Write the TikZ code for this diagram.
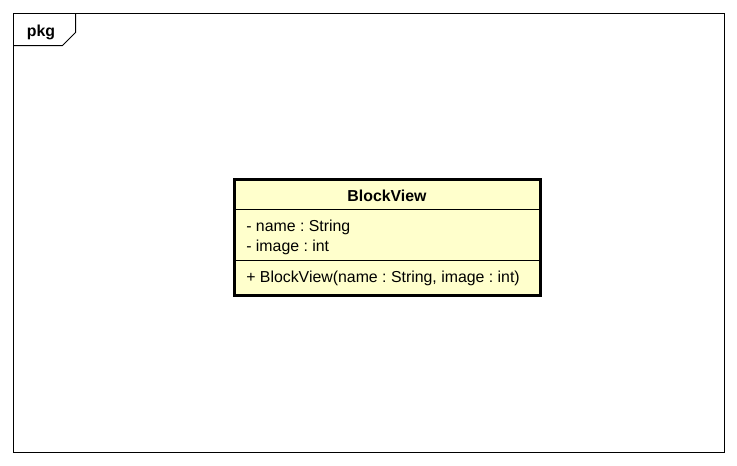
\documentclass[tikz,border=0pt]{standalone}
\usepackage{fontspec}
\setmainfont{Liberation Sans}
\definecolor{classfill}{HTML}{FFFFCC}
\frenchspacing
\begin{document}
\begin{tikzpicture}[x=0.75pt,y=-0.75pt,
  frameline/.style={draw=black,line width=0.75pt},
  classline/.style={draw=black,line width=2.25pt},
  divline/.style={draw=black,line width=0.75pt},
  txt/.style={inner sep=0pt,font=\fontsize{11.9pt}{14pt}\selectfont}]
\useasboundingbox (0,0) rectangle (737,465);
% package frame
\draw[frameline] (13.5,13.5) rectangle (724.5,452.5);
\draw[frameline] (13.5,45.5) -- (62.5,45.5) -- (75.5,32.5) -- (75.5,13.5);
\node[txt,font=\fontsize{11.9pt}{14pt}\selectfont\bfseries] (pkg) at (41,32) {pkg};
% class box
\fill[classfill] (234,179) rectangle (540,295);
\draw[divline] (234,209.5) -- (540,209.5);
\draw[divline] (234,260.5) -- (540,260.5);
\draw[classline] (234,179) rectangle (540,295);
\node[txt,font=\fontsize{11.9pt}{14pt}\selectfont\bfseries] (title) at (387,196) {BlockView};
\node[txt,anchor=west] (a1) at (246,227) {- name : String};
\node[txt,anchor=west] (a2) at (246,247) {- image : int};
\node[txt,anchor=west] (m1) at (246,278) {+ BlockView(name : String, image : int)};
\end{tikzpicture}
\end{document}
